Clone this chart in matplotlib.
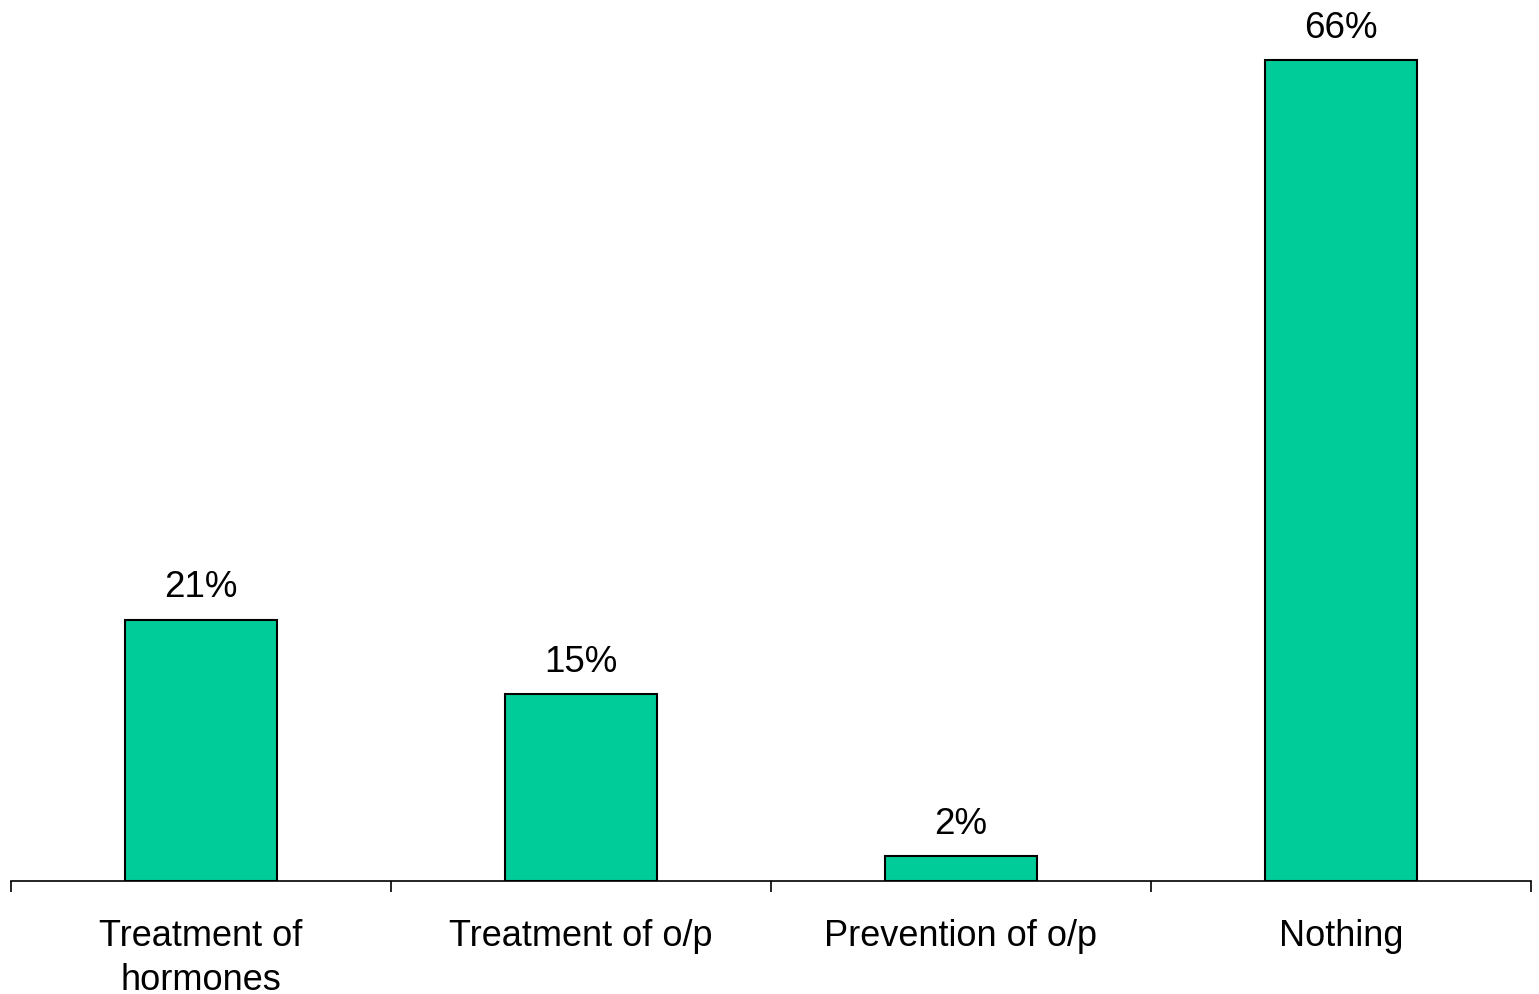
import numpy as np
import matplotlib.pyplot as plt

plt.rcParams['font.family'] = ['Liberation Sans', 'DejaVu Sans']

# datos del grafico
categorias = ["Treatment of\nhormones", "Treatment of o/p", "Prevention of o/p", "Nothing"]
valores = [21, 15, 2, 66]
etiquetas = ["21%", "15%", "2%", "66%"]

fig = plt.figure(figsize=(15.39, 9.95), dpi=100)
ax = fig.add_axes([11 / 1539, 113 / 995, 1520 / 1539, 870.8 / 995])

x = np.arange(len(categorias))
barras = ax.bar(x, valores, width=0.4, color="#00CC99", edgecolor="black", linewidth=1.5)

for b, txt in zip(barras, etiquetas):
    ax.annotate(txt, (b.get_x() + b.get_width() / 2, b.get_height()),
                xytext=(0, 11), textcoords="offset points",
                ha="center", va="bottom", fontsize=26.5)

ax.set_xlim(-0.5, len(categorias) - 0.5)
ax.set_ylim(0, 70)

# ticks mayores en los limites de categoria, etiquetas en los centros
ax.set_xticks(np.arange(len(categorias) + 1) - 0.5)
ax.set_xticklabels([])
ax.set_xticks(x, minor=True)
ax.set_xticklabels(categorias, minor=True, fontsize=26, linespacing=1.3)
ax.tick_params(axis="x", which="major", direction="out", length=8, width=1.2)
ax.tick_params(axis="x", which="minor", length=0, pad=27)

ax.set_yticks([])
for s in ["left", "top", "right"]:
    ax.spines[s].set_visible(False)
ax.spines["bottom"].set_linewidth(1.2)

fig.savefig("out.png", dpi=100)
